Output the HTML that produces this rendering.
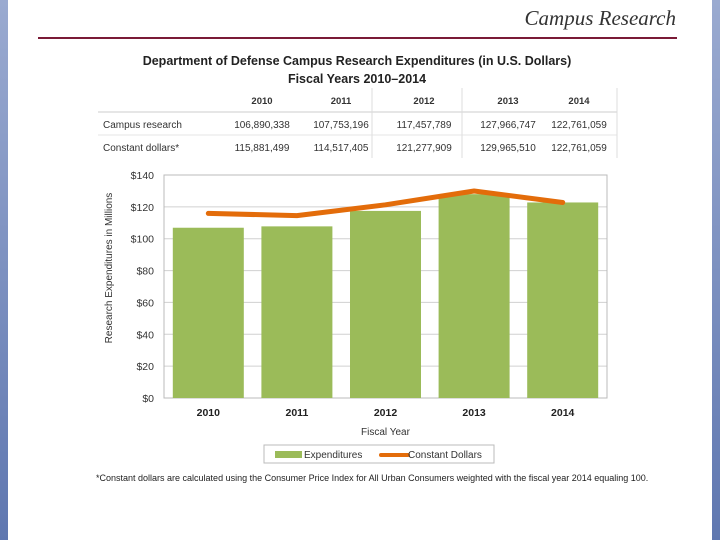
<!DOCTYPE html>
<html><head><meta charset="utf-8"><style>
body{margin:0;width:720px;height:540px;background:#fff;position:relative;overflow:hidden;font-family:"Liberation Sans",sans-serif;color:#222}
.bl{position:absolute;top:0;width:8px;height:540px;background:linear-gradient(#9aaad0,#5f77b0)}
.t{position:absolute;white-space:nowrap}
</style></head><body>
<div class="bl" style="left:0"></div>
<div class="bl" style="right:0"></div>
<div class="t" style="right:44px;top:6px;font-family:'Liberation Serif',serif;font-style:italic;font-size:21px;color:#333">Campus Research</div>
<div style="position:absolute;left:38px;top:37px;width:639px;height:2px;background:#7a1a36"></div>
<div class="t" style="left:0;width:714px;text-align:center;top:52px;font-size:12.5px;font-weight:bold;line-height:18px">Department of Defense Campus Research Expenditures (in U.S. Dollars)<br>Fiscal Years 2010–2014</div>
<svg width="720" height="540" style="position:absolute;left:0;top:0" font-family="Liberation Sans, sans-serif" id="svg">
<g font-size="10" fill="#333">
<line x1="98" y1="112" x2="617" y2="112" stroke="#ccc"/>
<line x1="98" y1="135" x2="617" y2="135" stroke="#e6e6e6"/>
<line x1="372" y1="88" x2="372" y2="158" stroke="#ddd"/>
<line x1="462" y1="88" x2="462" y2="158" stroke="#ddd"/>
<line x1="617" y1="88" x2="617" y2="158" stroke="#ddd"/>
<text x="103" y="128">Campus research</text>
<text x="103" y="151">Constant dollars*</text>
<g id="tbl"></g>
</g>
<g id="chart"></g>
</svg>
<div class="t" style="left:96px;top:473px;font-size:9px;color:#222">*Constant dollars are calculated using the Consumer Price Index for All Urban Consumers weighted with the fiscal year 2014 equaling 100.</div>
<script>
const years=["2010","2011","2012","2013","2014"];
const expenditures=[106.890338,107.753196,117.457789,127.966747,122.761059];
const constantDollars=[115.881499,114.517405,121.277909,129.965510,122.761059];
const expLabels=["106,890,338","107,753,196","117,457,789","127,966,747","122,761,059"];
const constLabels=["115,881,499","114,517,405","121,277,909","129,965,510","122,761,059"];
const yTicks=[0,20,40,60,80,100,120,140];
const NS="http://www.w3.org/2000/svg";
function mk(tag,attrs,parent,text){const e=document.createElementNS(NS,tag);for(const k in attrs)e.setAttribute(k,attrs[k]);if(text!==undefined)e.textContent=text;parent.appendChild(e);return e;}
const tbl=document.getElementById('tbl');
const colX=[262,341,424,508,579];
years.forEach((y,i)=>{
 let a=mk('text',{x:colX[i],y:104,'text-anchor':'middle','font-weight':'bold','font-size':'9.5'},tbl,y);
 
 
 let b=mk('text',{x:colX[i],y:128,'text-anchor':'middle'},tbl,expLabels[i]);
 
 
 let c=mk('text',{x:colX[i],y:151,'text-anchor':'middle'},tbl,constLabels[i]);
 
 
});
const g=document.getElementById('chart');
const L=164,R=607,T=175,B=398,yMax=140;
const ys=v=>B-(v/yMax)*(B-T);
const band=(R-L)/years.length;
const xc=i=>L+band*(i+0.5);
const bw=71;
yTicks.forEach(t=>{
 let l=mk('line',{x1:L,x2:R,y1:ys(t),y2:ys(t),stroke:'#d0d0d0'},g);
 
 
 let tx=mk('text',{x:L-10,y:ys(t)+4,'text-anchor':'end','font-size':'10.5',fill:'#333'},g,'$'+t);
 
 
});
let fr=mk('rect',{x:L,y:T,width:R-L,height:B-T,fill:'none',stroke:'#bbb'},g);


expenditures.forEach((v,i)=>{
 let r=mk('rect',{x:xc(i)-bw/2,y:ys(v),width:bw,height:B-ys(v),fill:'#9bbb59'},g);
 
 
 let tx=mk('text',{x:xc(i),y:B+18,'text-anchor':'middle','font-size':'10.5','font-weight':'bold',fill:'#222'},g,years[i]);
 
 
});
let pts=constantDollars.map((v,i)=>xc(i)+','+ys(v)).join(' ');
let pl=mk('polyline',{points:pts,fill:'none',stroke:'#e36c0a','stroke-width':5,'stroke-linejoin':'round','stroke-linecap':'round'},g);


let xt=mk('text',{x:(L+R)/2,y:435,'text-anchor':'middle','font-size':'10',fill:'#333'},g,'Fiscal Year');


let yt=mk('text',{x:0,y:0,transform:'translate(112,268) rotate(-90)','text-anchor':'middle','font-size':'10',fill:'#333'},g,'Research Expenditures in Millions');


let lg=mk('g',{},g);


mk('rect',{x:264,y:445,width:230,height:18,fill:'#fff',stroke:'#bbb'},lg);
let le1=mk('rect',{x:275,y:451,width:27,height:7,fill:'#9bbb59'},lg);


mk('text',{x:304,y:458,'font-size':'10',fill:'#333'},lg,'Expenditures');
let le2=mk('line',{x1:381,x2:408,y1:455,y2:455,stroke:'#e36c0a','stroke-width':4,'stroke-linecap':'round'},lg);


mk('text',{x:408,y:458,'font-size':'10',fill:'#333'},lg,'Constant Dollars');
</script>
</body></html>
